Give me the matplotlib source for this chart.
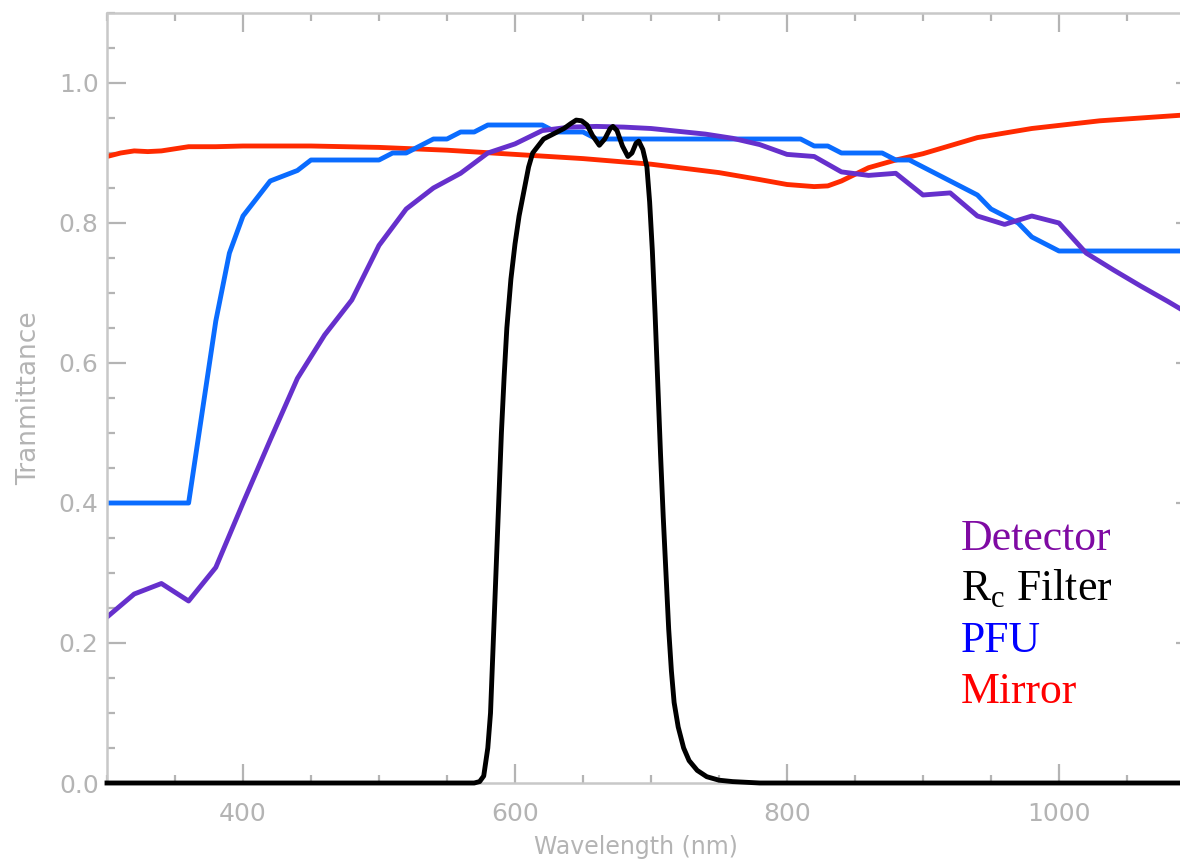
import numpy as np
import matplotlib.pyplot as plt
from matplotlib.ticker import MultipleLocator, FormatStrFormatter

# transmittance curves vs wavelength (nm)
mirror_nm = [300, 310, 320, 330, 340, 350, 360, 380, 400, 450, 500, 550, 600, 650,
             700, 750, 780, 800, 820, 830, 840, 860, 880, 900, 940, 980, 1030, 1090, 1100]
mirror_t = [0.895, 0.900, 0.903, 0.902, 0.903, 0.906, 0.909, 0.909, 0.910, 0.910, 0.908,
            0.904, 0.898, 0.892, 0.884, 0.872, 0.862, 0.855, 0.852, 0.853, 0.860, 0.879,
            0.890, 0.899, 0.922, 0.935, 0.946, 0.954, 0.955]

pfu_nm = [300, 360, 380, 390, 400, 420, 440, 450, 500, 510, 520, 540, 550, 560, 570, 580,
          620, 630, 650, 660, 800, 810, 820, 830, 840, 870, 880, 890, 900, 920, 940, 950,
          960, 970, 980, 990, 1000, 1100]
pfu_t = [0.40, 0.40, 0.66, 0.757, 0.81, 0.86, 0.875, 0.89, 0.89, 0.90, 0.90, 0.92, 0.92,
         0.93, 0.93, 0.94, 0.94, 0.93, 0.93, 0.92, 0.92, 0.92, 0.91, 0.91, 0.90, 0.90, 0.89,
         0.89, 0.88, 0.86, 0.84, 0.82, 0.81, 0.80, 0.78, 0.77, 0.76, 0.76]

det_nm = [300, 320, 340, 360, 380, 400, 420, 440, 460, 480, 500, 520, 540, 560, 580, 600,
          620, 640, 660, 680, 700, 720, 740, 760, 780, 800, 820, 840, 860, 880, 900, 920,
          940, 960, 980, 1000, 1020, 1040, 1060, 1080, 1100]
det_t = [0.237, 0.270, 0.285, 0.260, 0.308, 0.400, 0.490, 0.578, 0.640, 0.690, 0.768,
         0.820, 0.850, 0.871, 0.900, 0.913, 0.932, 0.937, 0.938, 0.937, 0.935, 0.931,
         0.927, 0.921, 0.912, 0.898, 0.895, 0.873, 0.868, 0.871, 0.840, 0.843, 0.810,
         0.798, 0.810, 0.800, 0.757, 0.733, 0.710, 0.688, 0.665]

filt_nm = [300, 560, 570, 574, 577, 580, 582, 584, 586, 588, 590, 592, 594, 597, 600, 603,
           606, 610, 613, 617, 621, 626, 631, 636, 641, 645, 649, 653, 657, 662, 666, 670,
           672, 675, 679, 683, 686, 689, 691, 694, 697, 699, 701, 703, 705, 707, 709, 711,
           713, 715, 717, 720, 724, 728, 734, 741, 750, 760, 780, 1100]
filt_t = [0.0, 0.0, 0.0, 0.002, 0.01, 0.05, 0.10, 0.20, 0.30, 0.40, 0.50, 0.58, 0.65, 0.72,
          0.77, 0.81, 0.84, 0.88, 0.90, 0.91, 0.92, 0.925, 0.93, 0.935, 0.942, 0.947,
          0.946, 0.94, 0.925, 0.911, 0.92, 0.935, 0.938, 0.932, 0.91, 0.895, 0.90, 0.914,
          0.917, 0.905, 0.88, 0.83, 0.76, 0.67, 0.57, 0.47, 0.38, 0.30, 0.22, 0.16, 0.115,
          0.08, 0.05, 0.032, 0.018, 0.009, 0.004, 0.002, 0.0, 0.0]

legend_labels = ['Detector', 'R$_\\mathrm{c}$ Filter', 'PFU', 'Mirror']
legend_colors = ['#7f0aa3', 'black', '#0000ff', '#ff0000']

plt.rcParams['mathtext.fontset'] = 'custom'
plt.rcParams['mathtext.rm'] = 'Liberation Serif'

grey = '#b4b4b4'

fig = plt.figure(figsize=(11.8, 8.63), dpi=100)
ax = fig.add_axes([107 / 1180, 80 / 863, 1088 / 1180, 770 / 863])

ax.plot(mirror_nm, mirror_t, color='#ff2a00', lw=3.5)
ax.plot(pfu_nm, pfu_t, color='#0a6cff', lw=3.5)
ax.plot(det_nm, det_t, color='#6630cc', lw=3.5)
ax.plot(filt_nm, filt_t, color='black', lw=3.5, clip_on=False, zorder=5)

ax.set_xlim(300, 1100)
ax.set_ylim(0, 1.1)

ax.xaxis.set_major_locator(MultipleLocator(200))
ax.xaxis.set_minor_locator(MultipleLocator(50))
ax.yaxis.set_major_locator(MultipleLocator(0.2))
ax.yaxis.set_minor_locator(MultipleLocator(0.05))
ax.yaxis.set_major_formatter(FormatStrFormatter('%.1f'))

ax.tick_params(which='both', direction='in', top=True, right=True,
               color=grey, width=1.6, labelcolor=grey, labelsize=18)
ax.tick_params(which='major', length=14)
ax.tick_params(which='minor', length=6)
ax.tick_params(axis='x', pad=14)
ax.tick_params(axis='y', pad=6)
for sp in ax.spines.values():
    sp.set_color('#c8c8c8')
    sp.set_linewidth(1.8)

ax.set_xlabel('Wavelength (nm)', color=grey, fontsize=17)
ax.xaxis.set_label_coords((636 - 107) / 1088, -0.068)
ax.set_ylabel('Tranmittance', color=grey, fontsize=19, labelpad=12)

# coloured labels standing in for a legend
for i, (lab, col) in enumerate(zip(legend_labels, legend_colors)):
    fig.text(961 / 1180, 1 - (550 + 51 * i) / 863, lab, color=col,
             family='Liberation Serif', fontsize=31.5, va='baseline', ha='left')

fig.savefig('out.png', dpi=100)
